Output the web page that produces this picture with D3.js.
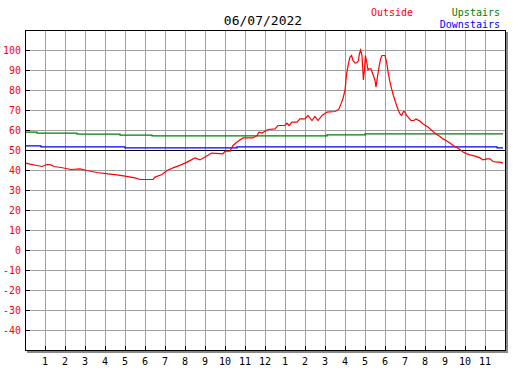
<!DOCTYPE html>
<html>
<head>
<meta charset="utf-8">
<script src="https://cdn.jsdelivr.net/npm/d3@7"></script>
<style>
  body { margin: 0; background: #fff; }
  svg { display: block; }
  text { font-family: "DejaVu Sans Mono", monospace; }
</style>
</head>
<body>
<script>
// readings, hour of day -> degrees
var outsideHours = [0, 0.25, 0.6, 0.85, 1.1, 1.3, 1.45, 1.8, 2.3, 2.75, 3.1, 3.6, 4.15, 4.6, 5.0, 5.5, 5.75, 6.4, 6.5, 6.85,
  7.1, 7.4, 7.8, 8.1, 8.5, 8.75, 9.0, 9.33, 9.9, 10.0, 10.25, 10.4, 10.6, 10.9, 11.4, 11.6, 11.7, 11.85, 12.15, 12.5,
  12.65, 13.0, 13.1, 13.2, 13.35, 13.6, 13.75, 14.0, 14.15, 14.35, 14.5, 14.65, 14.85, 15.1, 15.5, 15.7, 15.8, 15.9, 16.0, 16.08,
  16.17, 16.25, 16.33, 16.4, 16.5, 16.6, 16.67, 16.72, 16.78, 16.85, 16.92, 16.97, 17.02, 17.1, 17.15, 17.2, 17.3, 17.35, 17.42, 17.5,
  17.55, 17.62, 17.7, 17.78, 17.85, 18.0, 18.08, 18.17, 18.25, 18.33, 18.42, 18.5, 18.58, 18.67, 18.75, 18.83, 18.92, 19.0, 19.08, 19.3,
  19.45, 19.55, 19.75, 19.9, 20.15, 20.4, 20.55, 20.75, 20.9, 21.05, 21.25, 21.4, 21.55, 21.75, 21.9, 22.1, 22.25, 22.5, 22.75, 22.9,
  23.1, 23.25, 23.4, 23.6, 23.75, 23.9];
var outsideTemps = [43.8, 43.2, 42.5, 42, 43, 42.8, 42, 41.5, 40.5, 40.8, 40, 39, 38.3, 37.8, 37.2, 36.3, 35.5, 35.5, 36.7, 38,
  40, 41.3, 42.8, 44.2, 46.3, 45.3, 46.7, 48.7, 48.3, 49.7, 49.7, 52.5, 54.2, 56.3, 56.3, 57.5, 59.2, 58.7, 60.5, 60.8,
  62.5, 62.5, 63.7, 62.5, 64.2, 64.2, 65.8, 65.8, 67.5, 65, 67, 65, 67.5, 69.2, 69.5, 70.8, 73.3, 76, 80, 88.3,
  93.3, 96.7, 97.5, 95, 93.7, 94, 95, 98.3, 100.3, 97.5, 85.3, 90, 97.5, 93.3, 90.3, 90.8, 90.8, 89.2, 87.5, 85,
  81.7, 86.7, 91.7, 95.8, 97.5, 97.5, 94.2, 88.3, 84.2, 80.8, 77.5, 75, 72.5, 70, 68.3, 67.5, 69.5, 69.2, 67.5, 65,
  65, 65.8, 64.7, 63.3, 61.7, 59.5, 58.3, 57, 55.8, 55, 53.7, 52.5, 51.7, 50.5, 49.2, 48.3, 47.8, 47.2, 46.3, 45.3,
  45.8, 45.8, 44.5, 44.2, 44.2, 43.7];

var upstairsHours = [0, 0.6, 2.6, 4.75, 6.35, 15.1, 17.0, 23.9];
var upstairsTemps = [59.2, 58.7, 58.2, 57.7, 57.3, 57.85, 58.35, 58.35];

var downstairsHours = [0, 0.8, 5.0, 10.6, 23.6, 23.9];
var downstairsTemps = [52.3, 51.8, 51.3, 51.8, 51.3, 51.3];

var refLine = [50];

var hourLabels = ["1", "2", "3", "4", "5", "6", "7", "8", "9", "10", "11", "12",
  "1", "2", "3", "4", "5", "6", "7", "8", "9", "10", "11"];
var yTicks = [-40, -30, -20, -10, 0, 10, 20, 30, 40, 50, 60, 70, 80, 90, 100];

var title = "06/07/2022";

var W = 527, H = 370;
var pLeft = 25, pRight = 505, pTop = 30, pBottom = 350;

var svg = d3.select("body").append("svg")
  .attr("width", W)
  .attr("height", H);

var x = d3.scaleLinear().domain([0, 24]).range([pLeft, pRight]);
var y = d3.scaleLinear().domain([-50, 110]).range([pBottom, pTop]);

// shadow of the frame
svg.append("rect")
  .attr("x", pLeft + 2).attr("y", pTop + 2)
  .attr("width", pRight - pLeft + 1).attr("height", pBottom - pTop + 1)
  .attr("fill", "#888");
svg.append("rect")
  .attr("x", pLeft).attr("y", pTop)
  .attr("width", pRight - pLeft).attr("height", pBottom - pTop)
  .attr("fill", "#fff");

// grid
var grid = svg.append("g").attr("shape-rendering", "crispEdges");
grid.selectAll(".vg")
  .data(d3.range(1, 24))
  .enter().append("line")
  .attr("x1", d => x(d) + 0.5).attr("x2", d => x(d) + 0.5)
  .attr("y1", pTop).attr("y2", pBottom)
  .attr("stroke", "#a0a0a0");
grid.selectAll(".hg")
  .data(yTicks)
  .enter().append("line")
  .attr("x1", pLeft).attr("x2", pRight)
  .attr("y1", d => y(d) + 0.5).attr("y2", d => y(d) + 0.5)
  .attr("stroke", "#a0a0a0");

// reference line
grid.selectAll(".ref")
  .data(refLine)
  .enter().append("line")
  .attr("x1", pLeft).attr("x2", pRight)
  .attr("y1", d => y(d) + 0.5).attr("y2", d => y(d) + 0.5)
  .attr("stroke", "#000");

// series
function series(hours, temps, color, curve) {
  var pts = hours.map((h, i) => [h, temps[i]]);
  var line = d3.line()
    .x(d => x(d[0]))
    .y(d => y(d[1]) + 0.5)
    .curve(curve || d3.curveLinear);
  svg.append("path")
    .datum(pts)
    .attr("d", line)
    .attr("fill", "none")
    .attr("stroke", color)
    .attr("stroke-width", 1.2);
}
series(upstairsHours, upstairsTemps, "#008000", d3.curveStepAfter);
series(downstairsHours, downstairsTemps, "#0000ff", d3.curveStepAfter);
series(outsideHours, outsideTemps, "#ff0000");

// frame
svg.append("rect")
  .attr("x", pLeft + 0.5).attr("y", pTop + 0.5)
  .attr("width", pRight - pLeft).attr("height", pBottom - pTop)
  .attr("fill", "none")
  .attr("stroke", "#000")
  .attr("shape-rendering", "crispEdges");

// tick marks
var ticks = svg.append("g").attr("shape-rendering", "crispEdges");
ticks.selectAll(".yt")
  .data(yTicks)
  .enter().append("line")
  .attr("x1", pLeft).attr("x2", pLeft + 5)
  .attr("y1", d => y(d) + 0.5).attr("y2", d => y(d) + 0.5)
  .attr("stroke", "#000");
ticks.selectAll(".xt")
  .data(d3.range(1, 24))
  .enter().append("line")
  .attr("x1", d => x(d) + 0.5).attr("x2", d => x(d) + 0.5)
  .attr("y1", pBottom - 4).attr("y2", pBottom)
  .attr("stroke", "#000");

// labels
svg.selectAll(".yl")
  .data(yTicks)
  .enter().append("text")
  .attr("x", pLeft - 4)
  .attr("y", d => y(d) + 4)
  .attr("text-anchor", "end")
  .attr("font-size", 10)
  .attr("fill", "#ff0000")
  .text(d => d);

svg.selectAll(".xl")
  .data(hourLabels)
  .enter().append("text")
  .attr("x", (d, i) => x(i + 1))
  .attr("y", 365)
  .attr("text-anchor", "middle")
  .attr("font-size", 10)
  .attr("fill", "#000")
  .text(d => d);

svg.append("text")
  .attr("x", 263).attr("y", 25)
  .attr("text-anchor", "middle")
  .attr("font-size", 13)
  .attr("fill", "#000")
  .text(title);

// legend
svg.append("text").attr("x", 371).attr("y", 16).attr("font-size", 10)
  .attr("fill", "#ff0000").text("Outside");
svg.append("text").attr("x", 500).attr("y", 16).attr("text-anchor", "end").attr("font-size", 10)
  .attr("fill", "#008000").text("Upstairs");
svg.append("text").attr("x", 500).attr("y", 28).attr("text-anchor", "end").attr("font-size", 10)
  .attr("fill", "#0000ff").text("Downstairs");
</script>
</body>
</html>
